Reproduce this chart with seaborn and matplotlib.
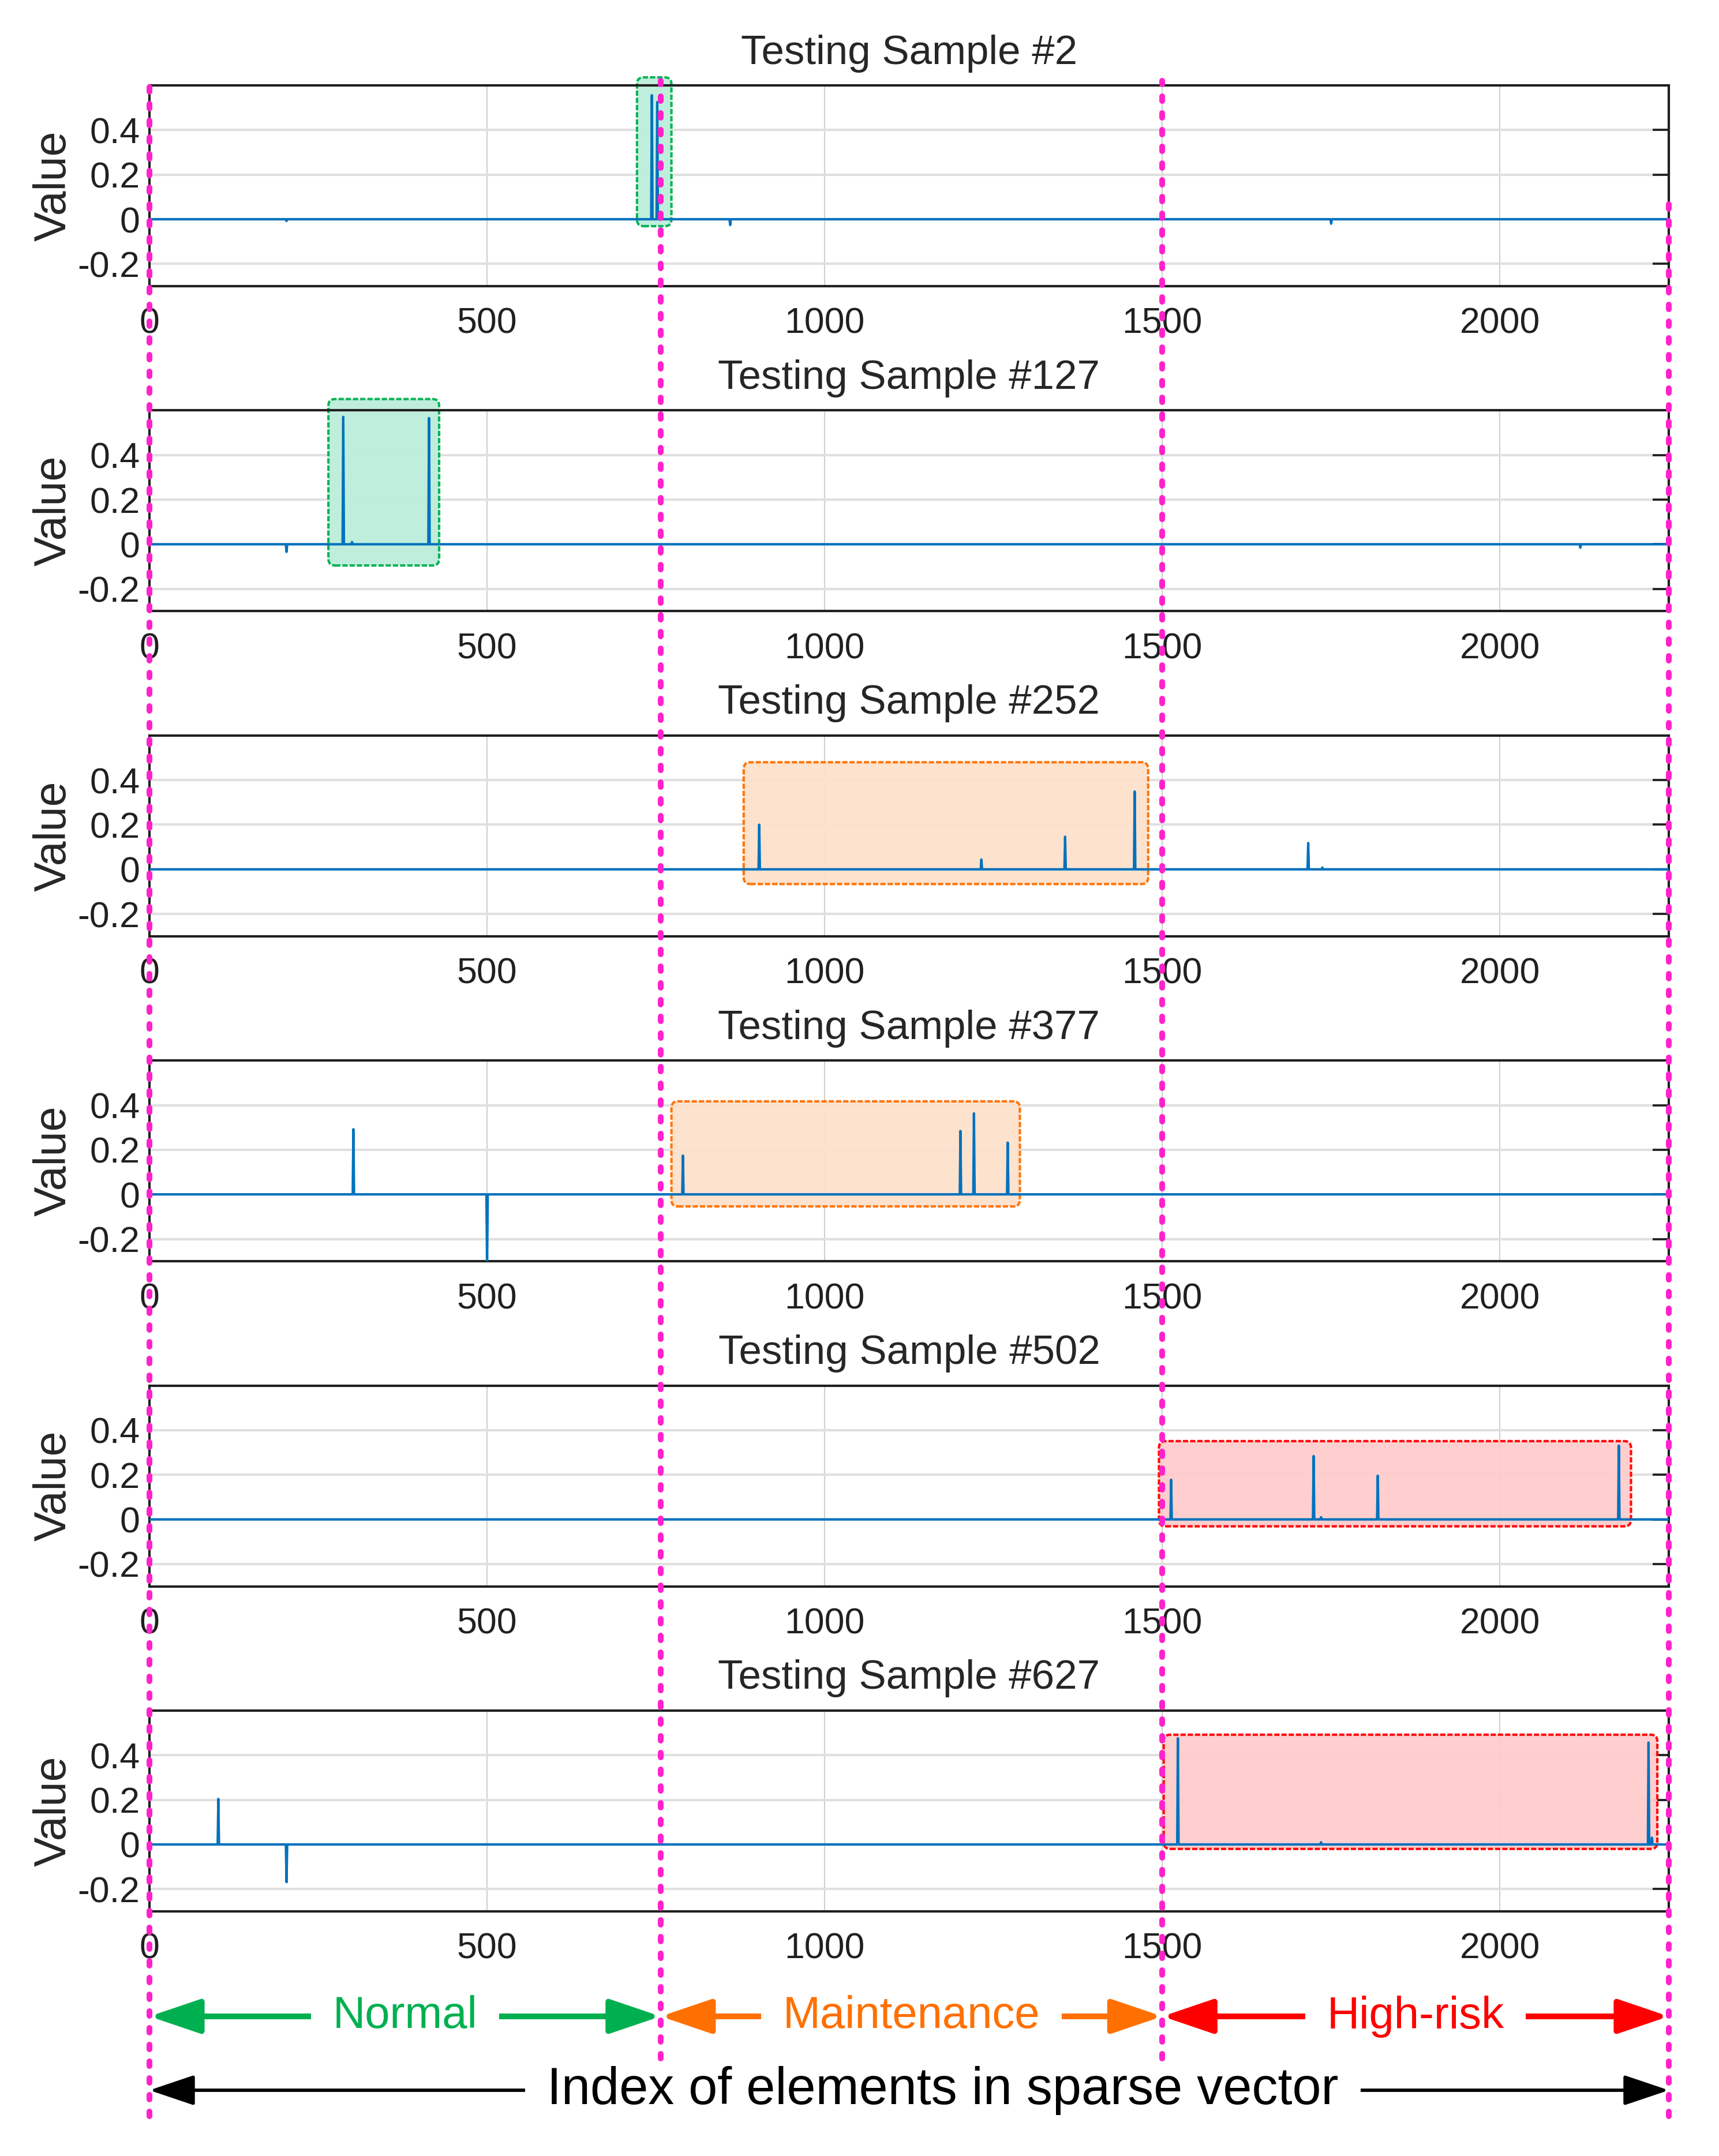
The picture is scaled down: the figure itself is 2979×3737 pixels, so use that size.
import numpy as np
import pandas as pd
import matplotlib.pyplot as plt
import seaborn as sns
from matplotlib.patches import FancyBboxPatch, FancyArrowPatch
from matplotlib.lines import Line2D
from matplotlib.transforms import blended_transform_factory

sns.set_theme(style="white")
plt.rcParams['font.family'] = ['Liberation Sans', 'DejaVu Sans']

# ---- data ----
n_elements = 2250
sample_ids = [2, 127, 252, 377, 502, 627]

spike_idx = [
    [203, 744, 752, 860, 1750],
    [203, 287, 300, 414, 2119],
    [903, 1232, 1356, 1459, 1716, 1737],
    [302, 500, 790, 1201, 1221, 1271],
    [1513, 1724, 1735, 1819, 2176],
    [102, 203, 1523, 1735, 2220, 2225],
]
spike_val = [
    [-0.008, 0.556, 0.525, -0.026, -0.02],
    [-0.034, 0.571, 0.01, 0.566, -0.015],
    [0.2, 0.044, 0.146, 0.349, 0.118, 0.008],
    [0.292, -0.33, 0.174, 0.284, 0.363, 0.232],
    [0.178, 0.284, 0.01, 0.196, 0.331],
    [0.204, -0.169, 0.476, 0.01, 0.457, 0.03],
]

# highlighted region per sample: x range, y range, class
box_x = [(722, 773), (265, 429), (880, 1479), (773, 1289), (1495, 2194), (1502, 2233)]
box_y = [(-0.031, 0.636), (-0.095, 0.651), (-0.066, 0.48), (-0.054, 0.417), (-0.031, 0.351), (-0.02, 0.492)]
box_cls = ["Normal", "Normal", "Maintenance", "Maintenance", "High-risk", "High-risk"]

# class boundaries along the index axis
boundaries = [0, 757, 1500, 2250]
class_names = ["Normal", "Maintenance", "High-risk"]
class_colors = {"Normal": "#00B050", "Maintenance": "#FF7000", "High-risk": "#FF0000"}
class_fill = {"Normal": "#BDEEDB", "Maintenance": "#FDE1CC", "High-risk": "#FFCCCC"}

line_color = "#0072BD"
magenta = "#FF22CC"

W, H = 2979, 3737
fig = plt.figure(figsize=(W / 300, H / 300), dpi=300)

ax_left, ax_w, ax_h = 259 / W, 2633 / W, 348 / H
first_bottom, step = 1 - 496 / H, 563.4 / H

axes = []
for i, sid in enumerate(sample_ids):
    ax = fig.add_axes([ax_left, first_bottom - i * step, ax_w, ax_h])
    axes.append(ax)

    signal = np.zeros(n_elements)
    idx = np.array(spike_idx[i]) - 1
    signal[idx] = spike_val[i]
    df = pd.DataFrame({"index": np.arange(1, n_elements + 1), "value": signal})
    sns.lineplot(data=df, x="index", y="value", ax=ax, color=line_color,
                 linewidth=1.0, estimator=None, sort=False, zorder=3)

    ax.set_xlim(0, 2250)
    ax.set_ylim(-0.3, 0.6)
    ax.set_yticks([-0.2, 0, 0.2, 0.4])
    ax.set_yticklabels(["-0.2", "0", "0.2", "0.4"])
    ax.set_xticks([0, 500, 1000, 1500, 2000])
    ax.set_xticklabels(["0", "500", "1000", "1500", "2000"])
    ax.tick_params(axis="both", direction="in", labelsize=15, colors="#202020",
                   length=6.7, width=0.9, top=True, right=True)
    ax.tick_params(axis="x", pad=8.6, length=0)
    ax.tick_params(axis="y", pad=4)
    ax.grid(axis="y", color="#E0E0E0", linewidth=1.0)
    ax.grid(axis="x", color="#D0D0D0", linewidth=0.5)
    ax.set_axisbelow(True)
    for sp in ax.spines.values():
        sp.set_color("#202020")
        sp.set_linewidth(1.0)
    ax.set_xlabel("")
    ax.set_ylabel("Value", fontsize=18.5)
    ax.yaxis.set_label_coords(-0.049, 0.5)
    ax.set_title(f"Testing Sample #{sid}", fontsize=17, pad=9)

    cls = box_cls[i]
    x0, x1 = box_x[i]
    y0, y1 = box_y[i]
    # rounding measured in x units, corrected for the y/x pixel ratio
    aspect = (0.9 / (ax_h * H)) / (2250 / (ax_w * W))
    patch = FancyBboxPatch((x0, y0), x1 - x0, y1 - y0,
                           boxstyle="round,pad=0,rounding_size=10",
                           mutation_aspect=aspect,
                           facecolor=class_fill[cls], edgecolor=class_colors[cls],
                           linewidth=1.0, linestyle=(0, (2.2, 0.8)), alpha=0.95,
                           clip_on=False, zorder=2)
    ax.add_patch(patch)

# dashed class boundaries across the whole figure
tr = blended_transform_factory(axes[0].transData, fig.transFigure)
line_top = [1 - 140 / H, 1 - 140 / H, 1 - 140 / H, 1 - 335 / H]
line_bot = [1 - 3668 / H, 1 - 3568 / H, 1 - 3568 / H, 1 - 3668 / H]
for b, yt, yb in zip(boundaries, line_top, line_bot):
    fig.add_artist(Line2D([b, b], [yb, yt], transform=tr, color=magenta,
                          linewidth=2.4, linestyle=(0, (0.8, 2.1)),
                          dash_capstyle="round", zorder=10))

# class arrows under the last panel
y_cls = 1 - 3495 / H
for k, name in enumerate(class_names):
    a, b = boundaries[k], boundaries[k + 1]
    col = class_colors[name]
    arr = FancyArrowPatch((a, y_cls), (b, y_cls), transform=tr,
                          arrowstyle="<|-|>,head_length=18,head_width=6.1",
                          mutation_scale=1, color=col, linewidth=2.4,
                          shrinkA=0, shrinkB=0, zorder=5)
    fig.add_artist(arr)
    fig.text((a + b) / 2, y_cls, name, transform=tr, color=col, fontsize=18.7,
             ha="center", va="center", zorder=6,
             bbox=dict(facecolor="white", edgecolor="none", pad=9))

y_idx = 1 - 3623 / H
arr = FancyArrowPatch((0, y_idx), (2250, y_idx), transform=tr,
                      arrowstyle="<|-|>,head_length=16,head_width=5.4",
                      mutation_scale=1, color="black", linewidth=1.4,
                      shrinkA=0, shrinkB=0, zorder=5)
fig.add_artist(arr)
fig.text(1175, y_idx, "Index of elements in sparse vector", transform=tr,
         color="black", fontsize=21.6, ha="center", va="center", zorder=6,
         bbox=dict(facecolor="white", edgecolor="none", pad=9))

fig.savefig("out.png", dpi=300, facecolor="white")
